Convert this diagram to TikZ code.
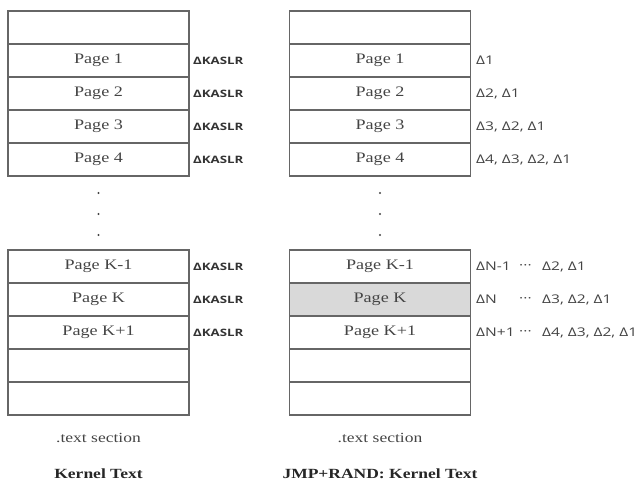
\documentclass[tikz,border=0pt]{standalone}
\usepackage{fontspec}
\setmainfont{Liberation Serif}[FakeStretch=1.25]
\newfontfamily\deltafont{Open Sans}[FakeStretch=1.3]
\usetikzlibrary{positioning}
\definecolor{linegray}{HTML}{666666}
\definecolor{textgray}{HTML}{444444}
\definecolor{shadegray}{HTML}{D9D9D9}

\begin{document}
\begin{tikzpicture}[x=1pt,y=-1pt,
  cell/.style={draw=linegray,line width=1.2pt,minimum width=181pt,minimum height=33pt,
    inner sep=0pt,font=\fontsize{14.5}{16}\selectfont,text=textgray},
  kaslr/.style={anchor=west,inner sep=0pt,font=\deltafont\bfseries\fontsize{10.2}{12}\selectfont,text=black!80},
  delta/.style={anchor=west,inner sep=0pt,font=\deltafont\fontsize{12}{14}\selectfont,text=textgray},
  vdot/.style={circle,fill=textgray,inner sep=0pt,minimum size=2.2pt},
  caption/.style={font=\fontsize{14}{16}\selectfont,text=textgray}]
  \useasboundingbox (0,0) rectangle (639,482);
  % left column: Kernel Text
  \node[cell] (L0) at (98.5,27.5) {};
  \node[cell] (L1) at (98.5,60.5) {Page 1};
  \node[cell] (L2) at (98.5,93.5) {Page 2};
  \node[cell] (L3) at (98.5,126.5) {Page 3};
  \node[cell] (L4) at (98.5,159.5) {Page 4};
  \node[vdot] (Ld1) at (98.5,193) {};
  \node[vdot] (Ld2) at (98.5,214) {};
  \node[vdot] (Ld3) at (98.5,235) {};
  \node[cell] (LK0) at (98.5,266.5) {Page K-1};
  \node[cell] (LK1) at (98.5,299.5) {Page K};
  \node[cell] (LK2) at (98.5,332.5) {Page K+1};
  \node[cell] (LE1) at (98.5,365.5) {};
  \node[cell] (LE2) at (98.5,398.5) {};
  \node[kaslr] at (193,60.5) {ΔKASLR};
  \node[kaslr] at (193,93.5) {ΔKASLR};
  \node[kaslr] at (193,126.5) {ΔKASLR};
  \node[kaslr] at (193,159.5) {ΔKASLR};
  \node[kaslr] at (193,266.5) {ΔKASLR};
  \node[kaslr] at (193,299.5) {ΔKASLR};
  \node[kaslr] at (193,332.5) {ΔKASLR};
  \node[caption] (Lsec) at (98.5,438) {.text section};
  \node[caption,font=\bfseries\fontsize{14}{16}\selectfont,text=black!85] (Ltitle) at (98.5,474) {Kernel Text};
  % right column: JMP+RAND
  \node[cell] (R0) at (380,27.5) {};
  \node[cell] (R1) at (380,60.5) {Page 1};
  \node[cell] (R2) at (380,93.5) {Page 2};
  \node[cell] (R3) at (380,126.5) {Page 3};
  \node[cell] (R4) at (380,159.5) {Page 4};
  \node[vdot] (Rd1) at (380,193) {};
  \node[vdot] (Rd2) at (380,214) {};
  \node[vdot] (Rd3) at (380,235) {};
  \node[cell] (RK0) at (380,266.5) {Page K-1};
  \node[cell,fill=shadegray] (RK1) at (380,299.5) {Page K};
  \node[cell] (RK2) at (380,332.5) {Page K+1};
  \node[cell] (RE1) at (380,365.5) {};
  \node[cell] (RE2) at (380,398.5) {};
  \node[delta] at (476,60.5) {Δ1};
  \node[delta] at (476,93.5) {Δ2, Δ1};
  \node[delta] at (476,126.5) {Δ3, Δ2, Δ1};
  \node[delta] at (476,159.5) {Δ4, Δ3, Δ2, Δ1};
  \node[delta] at (476,266.5) {ΔN-1};
  \node[delta] at (519,266.5) {···};
  \node[delta] at (542,266.5) {Δ2, Δ1};
  \node[delta] at (476,299.5) {ΔN};
  \node[delta] at (519,299.5) {···};
  \node[delta] at (542,299.5) {Δ3, Δ2, Δ1};
  \node[delta] at (476,332.5) {ΔN+1};
  \node[delta] at (519,332.5) {···};
  \node[delta] at (542,332.5) {Δ4, Δ3, Δ2, Δ1};
  \node[caption] (Rsec) at (380,438) {.text section};
  \node[caption,font=\bfseries\fontsize{14}{16}\selectfont,text=black!85] (Rtitle) at (380,474) {JMP+RAND: Kernel Text};
\end{tikzpicture}
\end{document}
